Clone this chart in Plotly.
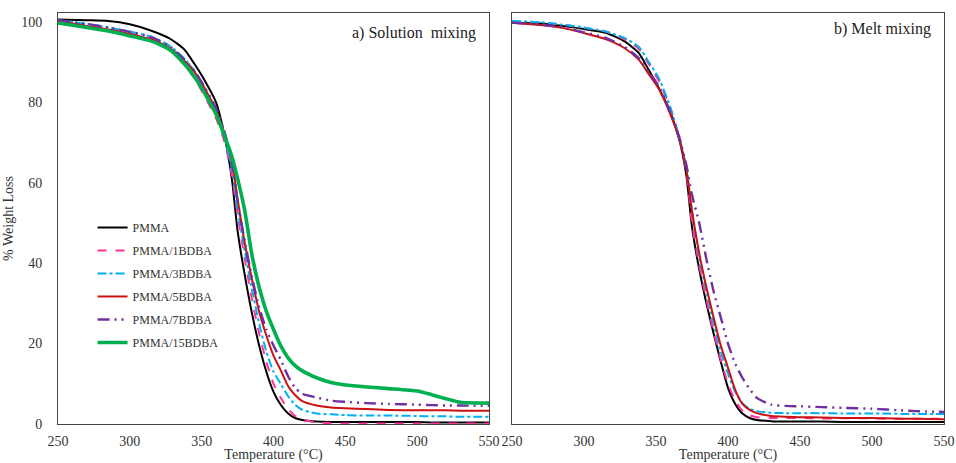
import plotly.graph_objects as go
from plotly.subplots import make_subplots

# temperature grid (°C) shared by all curves
temp = [250, 270, 285, 300, 315, 328, 338, 345, 352, 360, 366, 371, 375, 380, 385, 390,
        395, 400, 405, 410, 415, 420, 430, 440, 450, 465, 480, 500, 510, 520, 530, 550]

series_names = ['PMMA', 'PMMA/1BDBA', 'PMMA/3BDBA', 'PMMA/5BDBA', 'PMMA/7BDBA', 'PMMA/15BDBA']

# a) solution mixing, % weight
sol_pmma = [100.6, 100.4, 100.2, 99.4, 97.8, 95.8, 93.1, 89.5, 85.5, 80.0, 71.5, 61.0, 48.0, 37.0, 27.5, 19.5,
            13.0, 8.0, 4.8, 2.7, 1.5, 1.0, 0.6, 0.5, 0.5, 0.5, 0.5, 0.5, 0.4, 0.4, 0.4, 0.4]
sol_1bdba = [100.2, 99.2, 98.2, 97.2, 95.8, 93.2, 89.3, 86.0, 81.5, 76.0, 70.0, 62.0, 52.0, 41.0, 31.0, 22.5,
             15.5, 10.0, 6.5, 3.8, 2.0, 1.1, 0.4, 0.2, 0.1, 0.1, 0.1, 0.1, 0.1, 0.1, 0.1, 0.1]
sol_3bdba = [100.4, 99.5, 98.6, 97.6, 96.3, 94.0, 90.8, 87.8, 83.5, 78.0, 71.0, 63.5, 53.5, 43.0, 33.5, 25.0,
             18.0, 13.0, 10.0, 7.0, 4.8, 3.5, 2.6, 2.4, 2.2, 2.1, 2.1, 2.0, 1.9, 1.9, 1.8, 1.8]
sol_5bdba = [100.2, 99.0, 98.1, 97.0, 95.6, 93.4, 90.3, 87.5, 83.5, 78.0, 72.0, 65.5, 56.0, 45.0, 36.0, 28.0,
             22.0, 17.0, 13.4, 9.5, 7.2, 5.7, 4.6, 4.1, 3.9, 3.7, 3.5, 3.4, 3.4, 3.4, 3.3, 3.3]
sol_7bdba = [100.4, 99.5, 98.6, 97.5, 96.2, 93.8, 90.6, 87.8, 83.8, 78.5, 72.5, 65.0, 55.5, 45.5, 36.5, 29.0,
             23.5, 19.5, 16.0, 12.0, 9.0, 7.5, 6.6, 5.8, 5.5, 5.2, 5.0, 4.8, 4.7, 4.6, 4.6, 4.5]
sol_15bdba = [99.7, 98.6, 97.7, 96.5, 95.2, 93.0, 89.5, 86.3, 82.3, 77.0, 71.5, 66.5, 61.0, 53.0, 42.0, 34.0,
              28.0, 23.5, 19.5, 16.5, 14.5, 13.2, 11.5, 10.3, 9.7, 9.2, 8.8, 8.2, 7.3, 6.3, 5.4, 5.2]

# b) melt mixing, % weight
melt_pmma = [99.8, 99.6, 99.0, 98.2, 97.3, 95.2, 92.3, 88.0, 83.5, 77.5, 71.0, 62.0, 49.0, 38.5, 30.0, 22.5,
             15.5, 9.0, 5.0, 2.6, 1.5, 1.0, 0.7, 0.6, 0.6, 0.6, 0.5, 0.5, 0.5, 0.5, 0.5, 0.5]
melt_1bdba = [100.0, 99.8, 99.3, 98.5, 97.6, 95.7, 93.3, 89.5, 85.3, 78.5, 71.5, 63.0, 50.0, 39.5, 31.0, 23.0,
              16.0, 10.0, 5.8, 3.3, 2.2, 1.7, 1.5, 1.5, 1.5, 1.4, 1.4, 1.4, 1.3, 1.3, 1.3, 1.3]
melt_3bdba = [100.2, 99.9, 99.3, 98.6, 97.6, 96.0, 93.8, 90.0, 86.0, 78.7, 71.5, 64.0, 53.0, 41.5, 33.0, 25.0,
              18.0, 12.5, 8.0, 5.2, 3.8, 3.2, 2.8, 2.7, 2.7, 2.7, 2.6, 2.6, 2.6, 2.5, 2.5, 2.5]
melt_5bdba = [99.8, 99.2, 98.5, 97.2, 95.7, 93.5, 90.6, 87.0, 83.3, 77.0, 71.0, 63.5, 53.0, 42.5, 34.0, 26.5,
              19.5, 14.0, 8.5, 5.0, 3.5, 2.7, 2.0, 1.8, 1.7, 1.6, 1.5, 1.5, 1.4, 1.3, 1.3, 1.2]
melt_7bdba = [99.8, 99.3, 98.6, 97.4, 96.0, 93.8, 91.0, 87.5, 84.0, 77.5, 71.5, 64.5, 57.0, 50.0, 41.0, 33.0,
              26.5, 20.0, 15.0, 11.5, 8.7, 6.5, 4.8, 4.5, 4.4, 4.2, 4.0, 3.8, 3.6, 3.4, 3.2, 3.0]

x_ticks = [250, 300, 350, 400, 450, 500, 550]
y_ticks = [0, 20, 40, 60, 80, 100]

colors = ['#000000', '#ff3399', '#00b0f0', '#cc1111', '#7030a0', '#00b050']
dashes = ['solid', 'dash', 'dashdot', 'solid', '12px,5px,2px,5px,2px,5px', 'solid']
widths = [2, 2, 2, 2, 2.4, 3.6]

solution = [sol_pmma, sol_1bdba, sol_3bdba, sol_5bdba, sol_7bdba, sol_15bdba]
melt = [melt_pmma, melt_1bdba, melt_3bdba, melt_5bdba, melt_7bdba]

fig = make_subplots(rows=1, cols=2)

for i, vals in enumerate(solution):
    fig.add_trace(go.Scatter(
        x=temp, y=vals, mode='lines', name=series_names[i],
        legendgroup=series_names[i],
        line=dict(color=colors[i], dash=dashes[i], width=widths[i], shape='spline', smoothing=0.6)
    ), row=1, col=1)

for i, vals in enumerate(melt):
    fig.add_trace(go.Scatter(
        x=temp, y=vals, mode='lines', name=series_names[i],
        legendgroup=series_names[i], showlegend=False,
        line=dict(color=colors[i], dash=dashes[i], width=widths[i], shape='spline', smoothing=0.6)
    ), row=1, col=2)

serif = 'Liberation Serif, Times New Roman, serif'
fig.update_xaxes(
    range=[250, 550], tickvals=x_ticks, showgrid=False, zeroline=False, automargin=False,
    showline=True, linecolor='#444444', linewidth=1, mirror=True, ticks='',
    ticklabelstandoff=4, ticklabeloverflow='allow',
    tickfont=dict(family=serif, size=14, color='#333333'),
    title=dict(text='Temperature (°C)', font=dict(family=serif, size=14, color='#333333'), standoff=4)
)
fig.update_xaxes(domain=[0.0, 0.4865], row=1, col=1)
fig.update_xaxes(domain=[0.5124, 1.0], row=1, col=2)

fig.update_yaxes(
    range=[0, 102.2], tickvals=y_ticks, showgrid=False, zeroline=False, automargin=False,
    showline=True, linecolor='#444444', linewidth=1, mirror=True, ticks='',
    domain=[0.0, 1.0]
)
fig.update_yaxes(
    ticklabelstandoff=12, tickfont=dict(family=serif, size=14, color='#333333'),
    title=dict(text='% Weight Loss', font=dict(family=serif, size=14, color='#333333'), standoff=4),
    row=1, col=1
)
fig.update_yaxes(showticklabels=False, row=1, col=2)

fig.add_annotation(text='a) Solution  mixing', xref='x domain', yref='y domain', x=0.975, y=0.977,
                   xanchor='right', yanchor='top', showarrow=False,
                   font=dict(family=serif, size=16, color='#222222'))
fig.add_annotation(text='b) Melt mixing', xref='x2 domain', yref='y2 domain', x=0.975, y=0.987,
                   xanchor='right', yanchor='top', showarrow=False,
                   font=dict(family=serif, size=16, color='#222222'))

# page body margin is removed below, so the figure fills the whole window
fig.update_layout(
    width=956, height=463,
    margin=dict(l=58, r=12, t=13, b=39),
    paper_bgcolor='white', plot_bgcolor='white',
    showlegend=True,
    legend=dict(x=0.039, y=0.5135, xanchor='left', yanchor='top', bgcolor='rgba(0,0,0,0)',
                font=dict(family=serif, size=12, color='#333333'), tracegroupgap=4,
                itemwidth=30)
)

fig.write_html("out.html", config={'displayModeBar': False},
               post_script="document.body.style.margin='0';document.body.style.overflow='hidden';")
